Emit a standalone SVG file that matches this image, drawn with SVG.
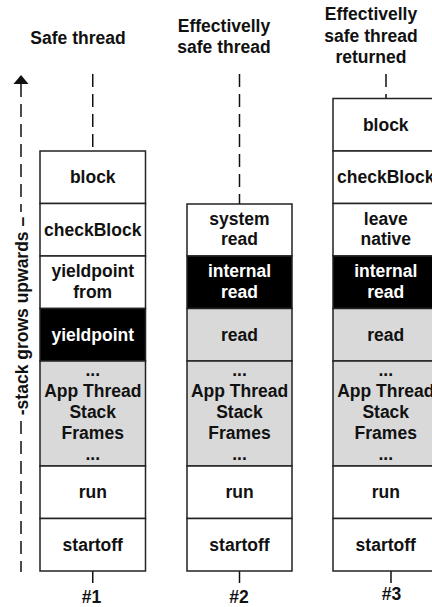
<svg xmlns="http://www.w3.org/2000/svg" width="432" height="607" viewBox="0 0 432 607">
<style>
  text { font-family: "Liberation Sans", Arial, sans-serif; font-weight: bold; font-size: 17.5px; fill: #111; text-anchor: middle; }
  .w { fill: #ffffff; stroke: #222; stroke-width: 1.5; }
  .g { fill: #d9d9d9; stroke: #222; stroke-width: 1.5; }
  .b { fill: #000000; stroke: #222; stroke-width: 1.5; }
  text.inv { fill: #ffffff; }
  .dash { stroke: #111; stroke-width: 1.5; stroke-dasharray: 13 7; fill: none; }
  .tick { stroke: #111; stroke-width: 1.5; fill: none; }
</style>

<!-- titles -->
<g id="title1"><text x="78" y="44">Safe thread</text></g>
<g id="title2"><text x="224" y="32">Effectivelly</text><text x="224" y="53">safe thread</text></g>
<g id="title3"><text x="371" y="20">Effectivelly</text><text x="371" y="41.5">safe thread</text><text x="371" y="63">returned</text></g>

<!-- stack grows upwards axis -->
<g id="axis">
  <line class="dash" x1="21" y1="84" x2="21" y2="212"/>
  <line class="dash" x1="21" y1="421" x2="21" y2="572"/>
  <polygon points="21,75 13.5,84 28.5,84" fill="#111"/>
  <text transform="translate(27.5,316) rotate(-90)">-stack grows upwards –</text>
</g>

<!-- connectors -->
<g id="connectors">
  <line class="dash" x1="92.75" y1="74" x2="92.75" y2="151"/>
  <line class="dash" x1="239.5" y1="74" x2="239.5" y2="204"/>
  <line class="dash" x1="386" y1="74" x2="386" y2="98.5"/>
  <line class="tick" x1="92.75" y1="571" x2="92.75" y2="583"/>
  <line class="tick" x1="239.5" y1="571" x2="239.5" y2="583"/>
  <line class="tick" x1="391" y1="571" x2="391" y2="583"/>
</g>

<!-- stack #1 -->
<g id="stack1">
  <g id="s1-block"><rect class="w" x="40" y="151" width="105.5" height="52.5"/><text x="92.75" y="183.25">block</text></g>
  <g id="s1-checkBlock"><rect class="w" x="40" y="203.5" width="105.5" height="52.5"/><text x="92.75" y="235.75">checkBlock</text></g>
  <g id="s1-yieldfrom"><rect class="w" x="40" y="256" width="105.5" height="52.5"/><text x="92.75" y="277">yieldpoint</text><text x="92.75" y="297.5">from</text></g>
  <g id="s1-yieldpoint"><rect class="b" x="40" y="308.5" width="105.5" height="52.5"/><text class="inv" x="92.75" y="340.75">yieldpoint</text></g>
  <g id="s1-app"><rect class="g" x="40" y="361" width="105.5" height="105"/><text x="92.75" y="376">...</text><text x="92.75" y="397">App Thread</text><text x="92.75" y="418">Stack</text><text x="92.75" y="439">Frames</text><text x="92.75" y="460">...</text></g>
  <g id="s1-run"><rect class="w" x="40" y="466" width="105.5" height="52.5"/><text x="92.75" y="498.25">run</text></g>
  <g id="s1-startoff"><rect class="w" x="40" y="518.5" width="105.5" height="52.5"/><text x="92.75" y="550.75">startoff</text></g>
  <text x="91.5" y="603">#1</text>
</g>

<!-- stack #2 -->
<g id="stack2">
  <g id="s2-sysread"><rect class="w" x="187" y="204" width="105" height="52"/><text x="239.5" y="224.5">system</text><text x="239.5" y="245">read</text></g>
  <g id="s2-intread"><rect class="b" x="187" y="256" width="105" height="52.5"/><text class="inv" x="239.5" y="277">internal</text><text class="inv" x="239.5" y="297.5">read</text></g>
  <g id="s2-read"><rect class="g" x="187" y="308.5" width="105" height="52.5"/><text x="239.5" y="340.75">read</text></g>
  <g id="s2-app"><rect class="g" x="187" y="361" width="105" height="105"/><text x="239.5" y="376">...</text><text x="239.5" y="397">App Thread</text><text x="239.5" y="418">Stack</text><text x="239.5" y="439">Frames</text><text x="239.5" y="460">...</text></g>
  <g id="s2-run"><rect class="w" x="187" y="466" width="105" height="52.5"/><text x="239.5" y="498.25">run</text></g>
  <g id="s2-startoff"><rect class="w" x="187" y="518.5" width="105" height="52.5"/><text x="239.5" y="550.75">startoff</text></g>
  <text x="239" y="603">#2</text>
</g>

<!-- stack #3 -->
<g id="stack3">
  <g id="s3-block"><rect class="w" x="333" y="98.5" width="105.5" height="52.5"/><text x="385.75" y="130.75">block</text></g>
  <g id="s3-checkBlock"><rect class="w" x="333" y="151" width="105.5" height="52.5"/><text x="385.75" y="183.25">checkBlock</text></g>
  <g id="s3-leave"><rect class="w" x="333" y="203.5" width="105.5" height="52.5"/><text x="385.75" y="224.5">leave</text><text x="385.75" y="245">native</text></g>
  <g id="s3-intread"><rect class="b" x="333" y="256" width="105.5" height="52.5"/><text class="inv" x="385.75" y="277">internal</text><text class="inv" x="385.75" y="297.5">read</text></g>
  <g id="s3-read"><rect class="g" x="333" y="308.5" width="105.5" height="52.5"/><text x="385.75" y="340.75">read</text></g>
  <g id="s3-app"><rect class="g" x="333" y="361" width="105.5" height="105"/><text x="385.75" y="376">...</text><text x="385.75" y="397">App Thread</text><text x="385.75" y="418">Stack</text><text x="385.75" y="439">Frames</text><text x="385.75" y="460">...</text></g>
  <g id="s3-run"><rect class="w" x="333" y="466" width="105.5" height="52.5"/><text x="385.75" y="498.25">run</text></g>
  <g id="s3-startoff"><rect class="w" x="333" y="518.5" width="105.5" height="52.5"/><text x="385.75" y="550.75">startoff</text></g>
  <text x="391.5" y="600">#3</text>
</g>
</svg>
